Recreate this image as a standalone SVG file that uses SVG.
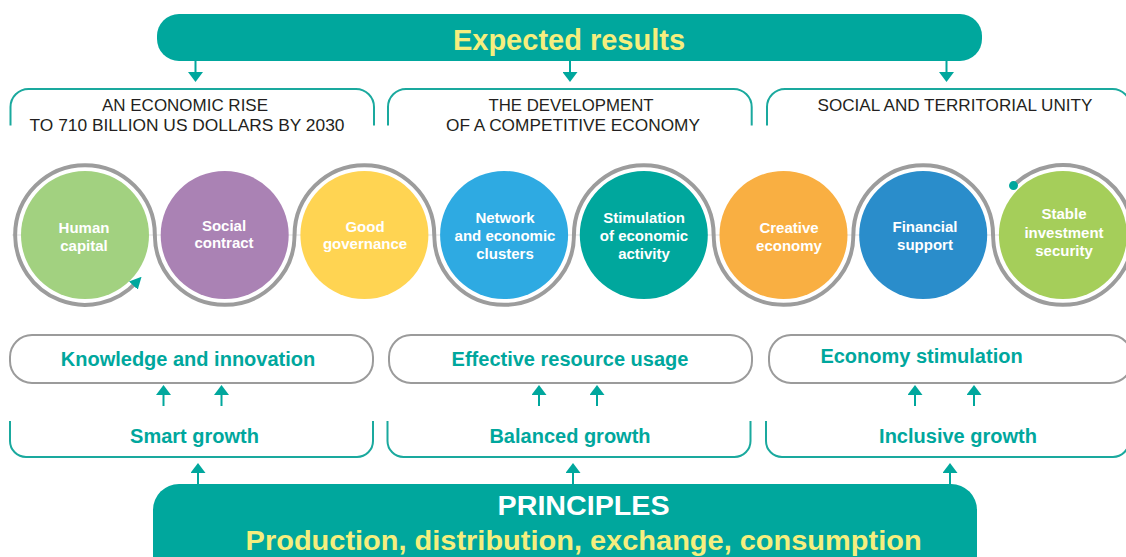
<svg xmlns="http://www.w3.org/2000/svg" width="1126" height="557" viewBox="0 0 1126 557">
<style>
.bar{fill:#00A79D}
.hdr{font-family:"Liberation Sans",Arial,sans-serif;font-size:17px;fill:#231F20;text-anchor:middle}
.ctext{font-family:"Liberation Sans",Arial,sans-serif;font-weight:bold;font-size:15px;fill:#fff;text-anchor:middle}
.btext{font-family:"Liberation Sans",Arial,sans-serif;font-weight:bold;font-size:20px;fill:#00A79D;text-anchor:middle}
.bracket{fill:none;stroke:#1AA99E;stroke-width:2}
.gbox{fill:#fff;stroke:#9B9B9B;stroke-width:2}
.conn{stroke:#00A79D;stroke-width:2;fill:none}
.ring{fill:none;stroke:#9C9C9C;stroke-width:4}
</style>
<defs>
<marker id="ah" viewBox="0 0 10 15" refX="0" refY="7.5" markerWidth="10" markerHeight="15" markerUnits="userSpaceOnUse" orient="auto">
<path d="M0,0 L10,7.5 L0,15 z" fill="#00A79D"/>
</marker>
<marker id="ahs" viewBox="0 0 12 12" refX="4" refY="6" markerWidth="12" markerHeight="12" markerUnits="userSpaceOnUse" orient="auto">
<path d="M0,0 L12,6 L0,12 z" fill="#00A79D"/>
</marker>
</defs>

<g id="expected-results">
<rect class="bar" x="157" y="14" width="825" height="47" rx="22"/>
<text x="569" y="50" font-family="'Liberation Sans',Arial,sans-serif" font-weight="bold" font-size="29" fill="#F5EE7E" text-anchor="middle">Expected results</text>
</g>

<g id="result-1">
<path class="bracket" d="M10.5,125.6 V107 A18,18 0 0 1 28.5,89 H356 A18,18 0 0 1 374,107 V125.6"/>
<text class="hdr" x="185" y="111" textLength="166" lengthAdjust="spacingAndGlyphs">AN ECONOMIC RISE</text>
<text class="hdr" x="187" y="131" textLength="315" lengthAdjust="spacingAndGlyphs">TO 710 BILLION US DOLLARS BY 2030</text>
</g>
<g id="result-2">
<path class="bracket" d="M388,125.6 V107 A18,18 0 0 1 406,89 H733.7 A18,18 0 0 1 751.7,107 V125.6"/>
<text class="hdr" x="571" y="111" textLength="165" lengthAdjust="spacingAndGlyphs">THE DEVELOPMENT</text>
<text class="hdr" x="573" y="131" textLength="254" lengthAdjust="spacingAndGlyphs">OF A COMPETITIVE ECONOMY</text>
</g>
<g id="result-3">
<path class="bracket" d="M767,125.6 V107 A18,18 0 0 1 785,89 H1112.5 A18,18 0 0 1 1130.5,107 V125.6"/>
<text class="hdr" x="955" y="111" textLength="275" lengthAdjust="spacingAndGlyphs">SOCIAL AND TERRITORIAL UNITY</text>
</g>

<line x1="12" y1="235" x2="1126" y2="235" stroke="#E2E2E2" stroke-width="1.2"/>

<g id="circle-1"><circle cx="85" cy="235" r="64" fill="#A2D180"/><text class="ctext" x="84" y="233">Human</text><text class="ctext" x="84" y="251">capital</text></g>
<g id="circle-2"><circle cx="224.7" cy="235" r="64" fill="#AA82B4"/><text class="ctext" x="224" y="231">Social</text><text class="ctext" x="224" y="248">contract</text></g>
<g id="circle-3"><circle cx="364.4" cy="235" r="64" fill="#FFD452"/><text class="ctext" x="365" y="232">Good</text><text class="ctext" x="365" y="249">governance</text></g>
<g id="circle-4"><circle cx="504.1" cy="235" r="64" fill="#2EAAE2"/><text class="ctext" x="505" y="223">Network</text><text class="ctext" x="505" y="241">and economic</text><text class="ctext" x="505" y="259">clusters</text></g>
<g id="circle-5"><circle cx="643.8" cy="235" r="64" fill="#00A79D"/><text class="ctext" x="644" y="223">Stimulation</text><text class="ctext" x="644" y="241">of economic</text><text class="ctext" x="644" y="259">activity</text></g>
<g id="circle-6"><circle cx="783.5" cy="235" r="64" fill="#F9AF42"/><text class="ctext" x="789" y="233">Creative</text><text class="ctext" x="789" y="251">economy</text></g>
<g id="circle-7"><circle cx="923.2" cy="235" r="64" fill="#2A8DCB"/><text class="ctext" x="925" y="232">Financial</text><text class="ctext" x="925" y="250">support</text></g>
<g id="circle-8"><circle cx="1062.9" cy="235" r="64" fill="#A5CE5A"/><text class="ctext" x="1064" y="219">Stable</text><text class="ctext" x="1064" y="237.5">investment</text><text class="ctext" x="1064" y="256">security</text></g>

<g id="snake">
<path class="ring" marker-end="url(#ahs)" d="M1013.5,185.6 A69.85,69.85 0 0 1 1132.75,235 A69.85,69.85 0 0 1 993.05,235 A69.85,69.85 0 0 0 853.35,235 A69.85,69.85 0 0 1 713.65,235 A69.85,69.85 0 0 0 573.95,235 A69.85,69.85 0 0 1 434.25,235 A69.85,69.85 0 0 0 294.55,235 A69.85,69.85 0 0 1 154.85,235 A69.85,69.85 0 0 0 15.15,235 A69.85,69.85 0 0 0 136.1,282.6"/>
<circle cx="1013.5" cy="185.6" r="4.5" fill="#00A79D"/>
</g>

<g id="box-knowledge"><rect class="gbox" x="10" y="335" width="363" height="48" rx="22"/><text class="btext" x="188" y="366">Knowledge and innovation</text></g>
<g id="box-resource"><rect class="gbox" x="389" y="335" width="363" height="48" rx="22"/><text class="btext" x="570" y="366">Effective resource usage</text></g>
<g id="box-economy"><rect class="gbox" x="769" y="335" width="363" height="48" rx="22"/><text class="btext" x="921.5" y="363">Economy stimulation</text></g>

<g id="growth-smart"><path class="bracket" d="M10,421 V441 A16,16 0 0 0 26,457 H357 A16,16 0 0 0 373,441 V421"/><text class="btext" x="194.5" y="443">Smart growth</text></g>
<g id="growth-balanced"><path class="bracket" d="M387.5,421 V441 A16,16 0 0 0 403.5,457 H734.5 A16,16 0 0 0 750.5,441 V421"/><text class="btext" x="570" y="443">Balanced growth</text></g>
<g id="growth-inclusive"><path class="bracket" d="M766,421 V441 A16,16 0 0 0 782,457 H1113 A16,16 0 0 0 1129,441 V421"/><text class="btext" x="958" y="443">Inclusive growth</text></g>

<g id="principles">
<rect class="bar" x="153" y="484" width="824" height="110" rx="26"/>
<text x="583.6" y="515" font-family="'Liberation Sans',Arial,sans-serif" font-weight="bold" font-size="27" fill="#fff" text-anchor="middle" textLength="172" lengthAdjust="spacingAndGlyphs">PRINCIPLES</text>
<text x="583.6" y="550" font-family="'Liberation Sans',Arial,sans-serif" font-weight="bold" font-size="28" fill="#F5EE7E" text-anchor="middle" textLength="676" lengthAdjust="spacingAndGlyphs">Production, distribution, exchange, consumption</text>
</g>

<g id="connectors">
<line class="conn" x1="195.5" y1="61" x2="195.5" y2="72" marker-end="url(#ah)"/>
<line class="conn" x1="570" y1="61" x2="570" y2="72" marker-end="url(#ah)"/>
<line class="conn" x1="946.5" y1="61" x2="946.5" y2="72" marker-end="url(#ah)"/>
<line class="conn" x1="163.5" y1="406" x2="163.5" y2="395" marker-end="url(#ah)"/>
<line class="conn" x1="221.5" y1="406" x2="221.5" y2="395" marker-end="url(#ah)"/>
<line class="conn" x1="539" y1="406" x2="539" y2="395" marker-end="url(#ah)"/>
<line class="conn" x1="597" y1="406" x2="597" y2="395" marker-end="url(#ah)"/>
<line class="conn" x1="915" y1="406" x2="915" y2="395" marker-end="url(#ah)"/>
<line class="conn" x1="974" y1="406" x2="974" y2="395" marker-end="url(#ah)"/>
<line class="conn" x1="198" y1="484" x2="198" y2="473" marker-end="url(#ah)"/>
<line class="conn" x1="573" y1="484" x2="573" y2="473" marker-end="url(#ah)"/>
<line class="conn" x1="950" y1="484" x2="950" y2="473" marker-end="url(#ah)"/>
</g>
</svg>
